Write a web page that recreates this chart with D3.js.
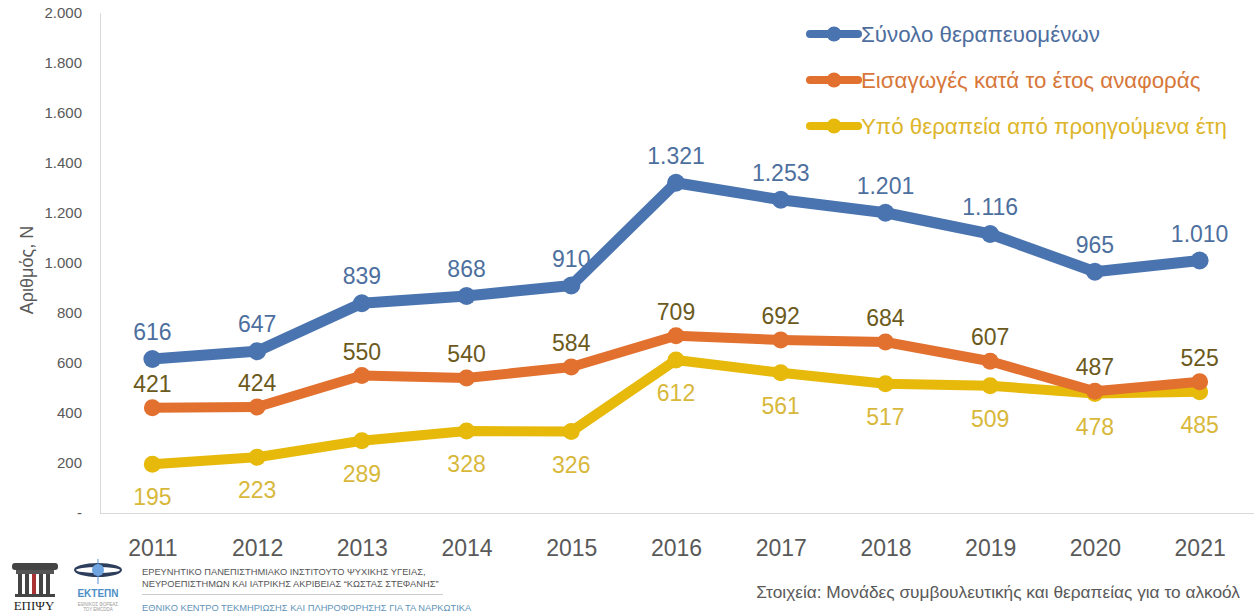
<!DOCTYPE html>
<html><head><meta charset="utf-8">
<script src="https://cdn.jsdelivr.net/npm/d3@7"></script>
<style>html,body{margin:0;padding:0;background:#fff;}svg{display:block;font-family:"Liberation Sans",Arial,sans-serif;}</style>
</head><body><svg id="c" width="1254" height="616"></svg>
<script>
const years = ["2011","2012","2013","2014","2015","2016","2017","2018","2019","2020","2021"];
const total = [616,647,839,868,910,1321,1253,1201,1116,965,1010];
const admissions = [421,424,550,540,584,709,692,684,607,487,525];
const prior = [195,223,289,328,326,612,561,517,509,478,485];
const seriesNames = ["Σύνολο θεραπευομένων","Εισαγωγές κατά το έτος αναφοράς","Υπό θεραπεία από προηγούμενα έτη"];
const yTicks = [0,200,400,600,800,1000,1200,1400,1600,1800,2000];
const yTitle = "Αριθμός, N";
const sourceText = "Στοιχεία: Μονάδες συμβουλευτικής και θεραπείας για το αλκοόλ";
const instLines = ["ΕΡΕΥΝΗΤΙΚΟ ΠΑΝΕΠΙΣΤΗΜΙΑΚΟ ΙΝΣΤΙΤΟΥΤΟ ΨΥΧΙΚΗΣ ΥΓΕΙΑΣ,","ΝΕΥΡΟΕΠΙΣΤΗΜΩΝ ΚΑΙ ΙΑΤΡΙΚΗΣ ΑΚΡΙΒΕΙΑΣ “ΚΩΣΤΑΣ ΣΤΕΦΑΝΗΣ”"];
const centreLine = "ΕΘΝΙΚΟ ΚΕΝΤΡΟ ΤΕΚΜΗΡΙΩΣΗΣ ΚΑΙ ΠΛΗΡΟΦΟΡΗΣΗΣ ΓΙΑ ΤΑ ΝΑΡΚΩΤΙΚΑ";

const loc = d3.formatLocale({decimal:",",thousands:".",grouping:[3],currency:["","€"]});
const fmt = loc.format(",d");

const svg = d3.select("#c");
const x = d3.scalePoint().domain(years).range([100,1252]).padding(0.5);
const y = d3.scaleLinear().domain([0,2000]).range([513,13]);

// axes lines
svg.append("line").attr("x1",100.5).attr("x2",100.5).attr("y1",y(2000)).attr("y2",y(0)).attr("stroke","#d9d9d9").attr("stroke-width",1);
svg.append("line").attr("x1",100).attr("x2",1254).attr("y1",y(0)+0.5).attr("y2",y(0)+0.5).attr("stroke","#d9d9d9").attr("stroke-width",1);

// y tick labels
const yAxis = d3.axisLeft(y).tickValues(yTicks).tickSize(0).tickPadding(0).tickFormat(d => d===0 ? "-" : fmt(d));
const ga = svg.append("g").attr("transform","translate(82,0)").call(yAxis);
ga.select(".domain").remove();
ga.selectAll("text").attr("fill","#595959").style("font-size","15px").style("font-family","'Liberation Sans',Arial,sans-serif");

// x tick labels
const xAxis = d3.axisBottom(x).tickSize(0).tickPadding(0);
const gx = svg.append("g").attr("transform","translate(0,540)").call(xAxis);
gx.select(".domain").remove();
gx.selectAll("text").attr("fill","#595959").style("font-size","23px").style("font-family","'Liberation Sans',Arial,sans-serif");

// y title
svg.append("text").attr("transform","translate(33,270) rotate(-90)").attr("text-anchor","middle")
  .attr("fill","#595959").style("font-size","18px").text(yTitle);

const series = [
  {name:seriesNames[0], vals:total, line:"#4a74b0", lab:"#4d6f9e", leg:"#4e6e9e", off:-27},
  {name:seriesNames[1], vals:admissions, line:"#e2702e", lab:"#6b5a1c", leg:"#d7773a", off:-24},
  {name:seriesNames[2], vals:prior, line:"#e6b90a", lab:"#d8b83a", leg:"#ddb52a", off:33}
];
const lineGen = d3.line().x((d,i)=>x(years[i])).y(d=>y(d));

// draw in reverse so blue is on top
[2,1,0].forEach(k=>{
  const s = series[k];
  const g = svg.append("g");
  const labels = () => g.selectAll("text.l").data(s.vals).enter().append("text").attr("class","l")
      .attr("x",(d,i)=>x(years[i])).attr("y",d=>y(d)+s.off).attr("dy","0.35em")
      .attr("text-anchor","middle").attr("fill",s.lab).style("font-size","23px").text(d=>fmt(d));
  if(k===0) labels();
  g.append("path").datum(s.vals).attr("d",lineGen).attr("fill","none").attr("stroke",s.line)
    .attr("stroke-width",k===0?11:10).attr("stroke-linejoin","round").attr("stroke-linecap","round");
  g.selectAll("circle").data(s.vals).enter().append("circle")
    .attr("cx",(d,i)=>x(years[i])).attr("cy",d=>y(d)).attr("r",k===0?9:8.5).attr("fill",s.line);
  if(k!==0) labels();
});

// legend
const lg = svg.append("g");
series.forEach((s,i)=>{
  const yy = 34 + i*46;
  lg.append("line").attr("x1",810).attr("x2",858).attr("y1",yy).attr("y2",yy).attr("stroke",s.line).attr("stroke-width",8).attr("stroke-linecap","round");
  lg.append("circle").attr("cx",834).attr("cy",yy).attr("r",7.5).attr("fill",s.line);
  lg.append("text").attr("x",861).attr("y",yy).attr("dy","0.35em").attr("fill",s.leg).style("font-size","22.3px").text(s.name);
});

// source
svg.append("text").attr("x",1240).attr("y",592).attr("dy","0.35em").attr("text-anchor","end")
  .attr("fill","#595959").style("font-size","17.3px").text(sourceText);

// logos (simplified)
const lo = svg.append("g");
lo.append("rect").attr("x",12).attr("y",563).attr("width",46).attr("height",7).attr("rx",3).attr("fill","#444");
lo.append("rect").attr("x",16).attr("y",570).attr("width",38).attr("height",4).attr("fill","#555");
for(let i=0;i<5;i++) lo.append("rect").attr("x",18+i*7).attr("y",574).attr("width",4).attr("height",20).attr("fill",i===2?"#a33":"#444");
lo.append("rect").attr("x",15).attr("y",594).attr("width",40).attr("height",3).attr("fill","#444");
lo.append("text").attr("x",34).attr("y",610).attr("text-anchor","middle").attr("fill","#222")
  .style("font-family","'Liberation Serif',serif").style("font-size","13px").text("ΕΠΙΨΥ");
lo.append("ellipse").attr("cx",98).attr("cy",570).attr("rx",24).attr("ry",7).attr("fill","#2d3e5c");
lo.append("ellipse").attr("cx",98).attr("cy",570).attr("rx",22).attr("ry",3).attr("fill","#fff");
lo.append("line").attr("x1",98).attr("x2",98).attr("y1",559).attr("y2",584).attr("stroke","#5a8fd0").attr("stroke-width",1);
lo.append("circle").attr("cx",98).attr("cy",570).attr("r",6).attr("fill","#6ea4e0");
lo.append("text").attr("x",98).attr("y",597).attr("text-anchor","middle").attr("fill","#4d8fc6").style("font-size","10px").style("font-weight","bold").text("ΕΚΤΕΠΝ");
lo.append("text").attr("x",98).attr("y",606).attr("text-anchor","middle").attr("fill","#999").style("font-size","4.5px").text("ΕΘΝΙΚΟΣ ΦΟΡΕΑΣ");
lo.append("text").attr("x",98).attr("y",611).attr("text-anchor","middle").attr("fill","#999").style("font-size","4.5px").text("ΤΟΥ ΕΜCDDA");
instLines.forEach((t,i)=>lo.append("text").attr("x",142).attr("y",575+i*12).attr("fill","#555").style("font-size","9.3px").text(t));
lo.append("line").attr("x1",142).attr("x2",443).attr("y1",594.5).attr("y2",594.5).attr("stroke","#ccc");
lo.append("text").attr("x",142).attr("y",611).attr("fill","#5f93b8").style("font-size","9.3px").text(centreLine);
</script></body></html>
